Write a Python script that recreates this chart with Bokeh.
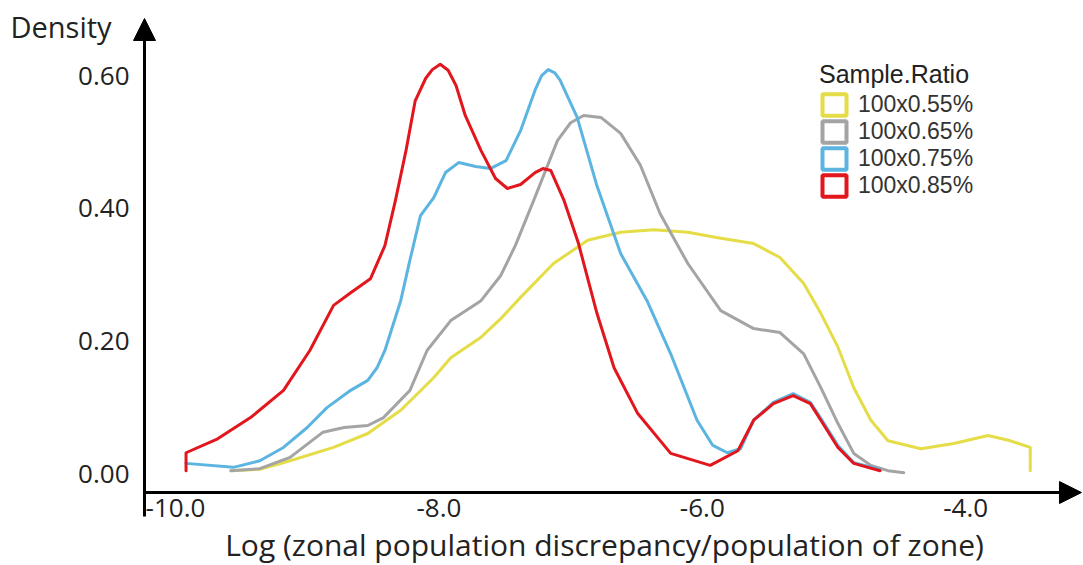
from bokeh.plotting import figure
from bokeh.models import (Range1d, FixedTicker, PrintfTickFormatter, Arrow, NormalHead,
                          Label, Legend, LegendItem)
from bokeh.embed import file_html
from bokeh.resources import INLINE

# Density curves of log(zonal population discrepancy / population of zone)
ratio_labels = ["100x0.55%", "100x0.65%", "100x0.75%", "100x0.85%"]
ratio_colors = ["#e4dd47", "#a4a4a4", "#5cb4e0", "#e2161d"]

x_055 = [-9.58, -9.36, -9.13, -8.80, -8.54, -8.29, -8.04, -7.91, -7.68, -7.53,
         -7.38, -7.13, -6.87, -6.62, -6.37, -6.11, -5.86, -5.61, -5.41, -5.23,
         -5.10, -4.97, -4.85, -4.72, -4.59, -4.34, -4.09, -3.83, -3.66, -3.51, -3.51]
y_055 = [0.005, 0.007, 0.020, 0.040, 0.061, 0.096, 0.145, 0.175, 0.206, 0.234,
         0.266, 0.317, 0.352, 0.364, 0.368, 0.364, 0.355, 0.347, 0.326, 0.287,
         0.242, 0.191, 0.130, 0.081, 0.050, 0.038, 0.046, 0.058, 0.050, 0.040, 0.005]

x_065 = [-9.58, -9.36, -9.13, -8.88, -8.72, -8.54, -8.42, -8.22, -8.09, -7.91,
         -7.68, -7.53, -7.42, -7.28, -7.10, -7.00, -6.90, -6.77, -6.62, -6.47,
         -6.32, -6.11, -5.86, -5.61, -5.41, -5.23, -5.10, -4.97, -4.85, -4.72,
         -4.59, -4.47]
y_065 = [0.005, 0.008, 0.025, 0.063, 0.070, 0.073, 0.085, 0.126, 0.186, 0.231,
         0.261, 0.299, 0.344, 0.412, 0.502, 0.529, 0.540, 0.537, 0.513, 0.465,
         0.392, 0.317, 0.246, 0.219, 0.213, 0.181, 0.130, 0.076, 0.031, 0.013,
         0.005, 0.002]

x_075 = [-9.92, -9.56, -9.36, -9.18, -9.00, -8.85, -8.67, -8.54, -8.47, -8.41,
         -8.29, -8.22, -8.14, -8.04, -7.95, -7.85, -7.72, -7.61, -7.49, -7.38,
         -7.27, -7.22, -7.17, -7.12, -7.08, -6.95, -6.80, -6.62, -6.42, -6.24,
         -6.04, -5.92, -5.81, -5.71, -5.61, -5.46, -5.31, -5.18, -5.10, -4.97,
         -4.85, -4.65]
y_075 = [0.016, 0.010, 0.020, 0.040, 0.070, 0.100, 0.126, 0.141, 0.160, 0.186,
         0.261, 0.322, 0.389, 0.416, 0.454, 0.469, 0.463, 0.460, 0.472, 0.517,
         0.578, 0.600, 0.609, 0.604, 0.593, 0.537, 0.434, 0.332, 0.261, 0.181,
         0.081, 0.043, 0.032, 0.038, 0.081, 0.108, 0.121, 0.108, 0.084, 0.043,
         0.017, 0.007]

x_085 = [-9.92, -9.92, -9.68, -9.43, -9.18, -8.98, -8.80, -8.67, -8.52, -8.41,
         -8.33, -8.25, -8.18, -8.10, -8.05, -7.99, -7.93, -7.87, -7.80, -7.68,
         -7.57, -7.48, -7.38, -7.27, -7.21, -7.15, -7.05, -6.94, -6.80, -6.67,
         -6.49, -6.24, -5.94, -5.73, -5.61, -5.46, -5.31, -5.18, -5.10, -4.97,
         -4.85, -4.65]
y_085 = [0.005, 0.032, 0.053, 0.085, 0.126, 0.186, 0.254, 0.273, 0.294, 0.344,
         0.412, 0.487, 0.562, 0.596, 0.609, 0.617, 0.608, 0.585, 0.540, 0.487,
         0.445, 0.430, 0.436, 0.454, 0.460, 0.457, 0.412, 0.347, 0.242, 0.160,
         0.091, 0.031, 0.013, 0.035, 0.081, 0.106, 0.118, 0.106, 0.081, 0.040,
         0.016, 0.005]

series_x = [x_055, x_065, x_075, x_085]
series_y = [y_055, y_065, y_075, y_085]

x_ticks = [-10.0, -8.0, -6.0, -4.0]
y_ticks = [0.0, 0.2, 0.4, 0.6]

# data window covering the whole canvas; the axes sit inside it
X_LO, X_HI = -11.3288, -3.1056
Y_LO, Y_HI = -0.1378, 0.7131
X_AXIS_AT = -10.2354   # where the vertical axis crosses
Y_AXIS_AT = -0.0279    # where the horizontal axis crosses

p = figure(width=1083, height=565, output_backend="svg", toolbar_location=None,
           x_range=Range1d(X_LO, X_HI), y_range=Range1d(Y_LO, Y_HI),
           min_border=0)
p.outline_line_color = None
p.grid.visible = False
p.background_fill_color = "white"
p.border_fill_color = "white"

TEXT_FONT = "Open Sans"
TEXT_COLOR = "#222222"
for ax in (p.xaxis[0], p.yaxis[0]):
    ax.axis_line_color = None
    ax.major_tick_line_color = None
    ax.minor_tick_line_color = None
    ax.major_tick_out = 0
    ax.major_tick_in = 0
    ax.major_label_text_font = TEXT_FONT
    ax.major_label_text_font_size = "26px"
    ax.major_label_text_color = TEXT_COLOR

p.xaxis.fixed_location = Y_AXIS_AT
p.xaxis.ticker = FixedTicker(ticks=x_ticks)
p.xaxis.formatter = PrintfTickFormatter(format="%.1f")
p.xaxis.major_label_standoff = 6

p.yaxis.fixed_location = X_AXIS_AT
p.yaxis.ticker = FixedTicker(ticks=y_ticks)
p.yaxis.formatter = PrintfTickFormatter(format="%.2f")
p.yaxis.major_label_standoff = 15

# density curves, drawn back to front
for xs, ys, c in zip(series_x, series_y, ratio_colors):
    p.line(xs, ys, line_color=c, line_width=3, line_join="round", line_cap="round")

# axis lines with arrow heads
p.add_layout(Arrow(end=NormalHead(size=22, fill_color="black", line_color="black"),
                   x_start=X_AXIS_AT, y_start=-0.064, x_end=X_AXIS_AT, y_end=0.686,
                   line_color="black", line_width=3))
p.add_layout(Arrow(end=NormalHead(size=22, fill_color="black", line_color="black"),
                   x_start=X_AXIS_AT, y_start=Y_AXIS_AT, x_end=-3.121, y_end=Y_AXIS_AT,
                   line_color="black", line_width=3))

# axis titles
p.add_layout(Label(x=10, y=539, x_units="screen", y_units="screen", text="Density",
                   text_font=TEXT_FONT, text_font_size="29px", text_color=TEXT_COLOR,
                   text_baseline="alphabetic"))
p.add_layout(Label(x=604, y=21, x_units="screen", y_units="screen",
                   text="Log (zonal population discrepancy/population of zone)",
                   text_font=TEXT_FONT, text_font_size="30px", text_color=TEXT_COLOR,
                   text_align="center", text_baseline="alphabetic"))

# legend with hollow square keys (the key glyphs carry no plotted data)
nan = float("nan")
keys = [p.quad(left=[nan], right=[nan], bottom=[nan], top=[nan], fill_color="white",
               line_color=c, line_width=4) for c in ratio_colors]
legend = Legend(items=[LegendItem(label=l, renderers=[r]) for l, r in zip(ratio_labels, keys)],
                location=(819, 366), title="Sample.Ratio",
                title_text_font="Liberation Sans", title_text_font_size="25px",
                title_text_font_style="normal", title_text_color=TEXT_COLOR,
                title_standoff=2,
                label_text_font="Liberation Sans", label_text_font_size="23px",
                label_text_color="#333333", label_standoff=9,
                glyph_width=30, glyph_height=27, label_height=27, spacing=0,
                padding=0, margin=0, border_line_color=None,
                background_fill_alpha=0)
p.add_layout(legend)

open("out.html", "w").write(file_html(p, INLINE))
